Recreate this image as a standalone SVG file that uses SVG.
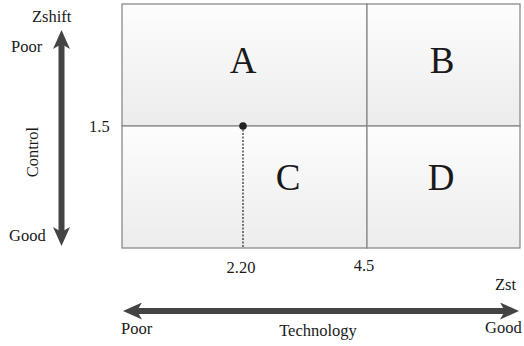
<svg xmlns="http://www.w3.org/2000/svg" width="524" height="346" viewBox="0 0 524 346">
<style>
text{font-family:"Liberation Serif","Times New Roman",serif;fill:#1a1a1a}
.s{font-size:16.5px}
.big{font-size:37px;text-anchor:middle}
.q{stroke:#8a8a8a;stroke-width:1.3}
</style>
<defs>
<linearGradient id="g" x1="0" y1="0" x2="0" y2="1">
<stop offset="0" stop-color="#fdfdfd"/><stop offset="1" stop-color="#ececec"/>
</linearGradient>
<marker id="ah" viewBox="0 0 19 17" refX="5" refY="8.5" markerUnits="userSpaceOnUse" markerWidth="19" markerHeight="17" orient="auto-start-reverse">
<path d="M0,0 L19,8.5 L0,17 L5,8.5 Z" fill="#444"/>
</marker>
</defs>
<g id="quadA"><rect class="q" x="122" y="4" width="245" height="122" fill="url(#g)"/><text class="big" x="243" y="73">A</text></g>
<g id="quadB"><rect class="q" x="367" y="4" width="153" height="122" fill="url(#g)"/><text class="big" x="442" y="73">B</text></g>
<g id="quadC"><rect class="q" x="122" y="126" width="245" height="122" fill="url(#g)"/><text class="big" x="288" y="190">C</text></g>
<g id="quadD"><rect class="q" x="367" y="126" width="153" height="122" fill="url(#g)"/><text class="big" x="441" y="190">D</text></g>
<g id="connectors">
<line x1="243" y1="126" x2="243" y2="248" stroke="#333" stroke-width="1.3" stroke-dasharray="2,1.5"/>
<circle cx="243" cy="126" r="3.8" fill="#222"/>
<line x1="61.5" y1="44" x2="61.5" y2="232" stroke="#444" stroke-width="6" marker-start="url(#ah)" marker-end="url(#ah)"/>
<line x1="137" y1="311" x2="505" y2="311" stroke="#444" stroke-width="6" marker-start="url(#ah)" marker-end="url(#ah)"/>
</g>
<g id="labels">
<text class="s" x="32" y="22">Zshift</text>
<text class="s" x="11" y="52">Poor</text>
<text class="s" x="9" y="241">Good</text>
<text class="s" x="38" y="152" text-anchor="middle" transform="rotate(-90 38 152)">Control</text>
<text class="s" x="89" y="132">1.5</text>
<text class="s" x="241" y="273" text-anchor="middle">2.20</text>
<text class="s" x="364" y="271" text-anchor="middle">4.5</text>
<text class="s" x="495" y="290">Zst</text>
<text class="s" x="121" y="334">Poor</text>
<text class="s" x="318" y="336" text-anchor="middle">Technology</text>
<text class="s" x="485" y="333">Good</text>
</g>
</svg>
